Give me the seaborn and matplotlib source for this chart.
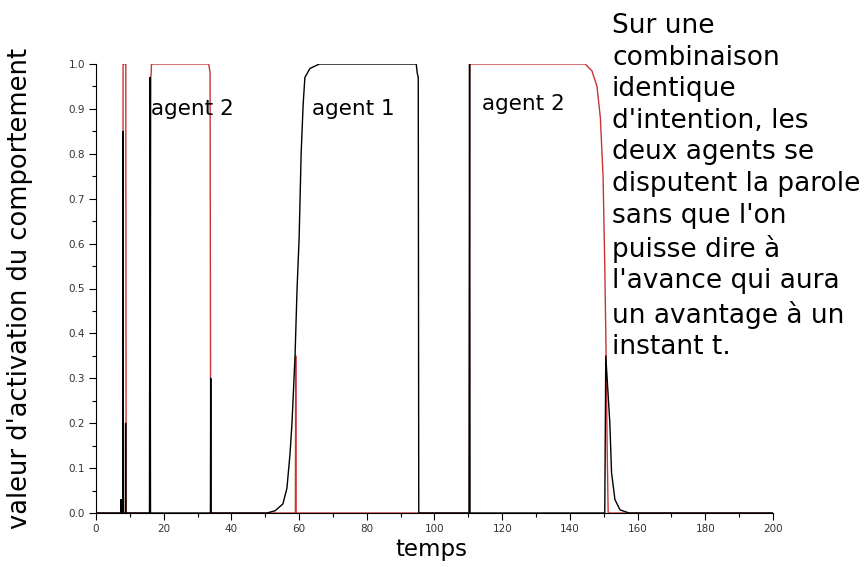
import matplotlib
matplotlib.use("Agg")
import matplotlib.pyplot as plt
import seaborn as sns
import pandas as pd
from matplotlib.ticker import MultipleLocator

# agent 1 (black) — breakpoints
agent1_t = [0, 7.3, 7.4, 7.5, 7.9, 8.0, 8.1, 8.7, 8.75, 8.8, 15.8, 15.95, 16.1,
            33.8, 33.9, 34.0, 50.5, 52.9, 55.2, 56.4, 57.3, 57.9, 58.8, 59.4,
            60.0, 60.6, 61.2, 61.7, 63.2, 66.0, 94.6, 94.9, 95.2, 95.35,
            110.2, 110.35, 110.5, 150.3, 150.6, 151.0, 151.8, 152.3, 153.3,
            154.8, 157.5, 200]
agent1_v = [0, 0, 0.03, 0, 0, 0.85, 0, 0, 0.2, 0, 0, 0.97, 0,
            0, 0.3, 0, 0, 0.005, 0.02, 0.055, 0.13, 0.2, 0.35, 0.5,
            0.61, 0.8, 0.91, 0.97, 0.99, 1.0, 1.0, 0.98, 0.97, 0,
            0, 1.0, 0, 0, 0.35, 0.3, 0.2, 0.09, 0.03,
            0.007, 0, 0]

# agent 2 (red)
agent2_t = [0, 7.9, 8.0, 8.8, 8.9, 16.0, 16.2, 16.3, 16.4, 33.3, 33.7, 33.9,
            58.9, 59.0, 59.1, 110.3, 110.45, 144.5, 146.5, 148.0, 149.0,
            149.8, 150.3, 150.7, 151.0, 151.3, 200]
agent2_v = [0, 0, 1.0, 1.0, 0, 0, 0.97, 0.98, 1.0, 1.0, 0.98, 0,
            0, 0.35, 0, 0, 1.0, 1.0, 0.985, 0.95, 0.88,
            0.75, 0.55, 0.35, 0.15, 0, 0]

x_ticks = [0, 20, 40, 60, 80, 100, 120, 140, 160, 180, 200]
y_ticks = [0.0, 0.1, 0.2, 0.3, 0.4, 0.5, 0.6, 0.7, 0.8, 0.9, 1.0]

labels = ["agent 2", "agent 1", "agent 2"]
label_t = [16.2, 63.8, 114.0]
label_v = [0.90, 0.90, 0.91]

note = ("Sur une\ncombinaison\nidentique\nd'intention, les\ndeux agents se\n"
        "disputent la parole\nsans que l'on\npuisse dire à\nl'avance qui aura\n"
        "un avantage à un\ninstant t.")

sns.set_style("ticks")
plt.rcParams['font.family'] = ['DejaVu Sans']
plt.rcParams['text.color'] = 'black'
plt.rcParams['axes.labelcolor'] = 'black'

fig = plt.figure(figsize=(8.64, 5.67), dpi=100)
ax = fig.add_axes([96/864, 1 - 513/567, (773-96)/864, (513-64)/567])

df2 = pd.DataFrame({"t": agent2_t, "v": agent2_v})
df1 = pd.DataFrame({"t": agent1_t, "v": agent1_v})
sns.lineplot(data=df2, x="t", y="v", ax=ax, color="#c83434", lw=1.0,
             estimator=None, sort=False)
sns.lineplot(data=df1, x="t", y="v", ax=ax, color="black", lw=1.0,
             estimator=None, sort=False)

ax.set_xlim(0, 200)
ax.set_ylim(0, 1.0)
ax.set_xticks(x_ticks)
ax.set_xticklabels([str(v) for v in x_ticks])
ax.set_yticks(y_ticks)
ax.set_yticklabels([f"{v:.1f}" for v in y_ticks])
ax.xaxis.set_minor_locator(MultipleLocator(10))
ax.yaxis.set_minor_locator(MultipleLocator(0.05))
ax.tick_params(axis="both", which="major", labelsize=7.5, labelcolor="#333333",
               length=5, width=0.8, direction="out", pad=3, color="black")
ax.tick_params(axis="both", which="minor", length=3, width=0.8, direction="out",
               color="black")
for s in ["top", "right"]:
    ax.spines[s].set_visible(False)
for s in ["left", "bottom"]:
    ax.spines[s].set_linewidth(0.8)
    ax.spines[s].set_color("black")

ax.set_xlabel("temps", fontsize=16.5)
ax.set_ylabel("valeur d'activation du comportement", fontsize=18.5,
              ha="center", va="center")
ax.xaxis.set_label_coords(0.496, -0.055)
ax.yaxis.set_label_coords(-0.112, 0.50)

for lab, t, v in zip(labels, label_t, label_v):
    ax.text(t, v, lab, fontsize=15.5, va="center", ha="left", color="black")

fig.text(612/864, 1 - 13/567, note, fontsize=19, va="top", ha="left",
         linespacing=1.28, color="black")

fig.savefig("out.png", dpi=100, facecolor="white")
